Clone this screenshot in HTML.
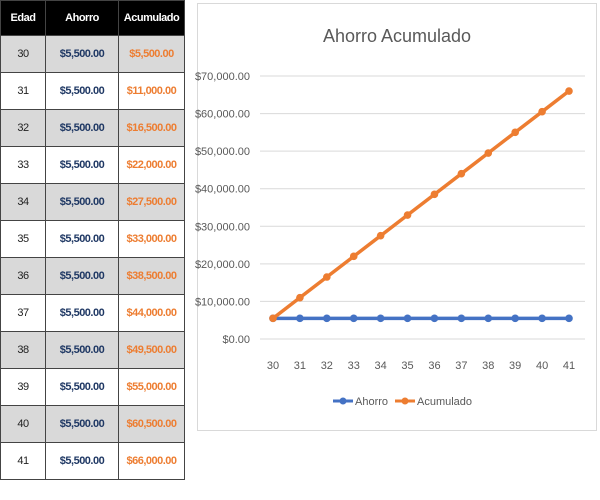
<!DOCTYPE html>
<html><head><meta charset="utf-8"><style>
body{margin:0;width:600px;height:500px;background:#fff;font-family:"Liberation Sans Narrow","Liberation Sans",sans-serif;overflow:hidden;position:relative}
table{position:absolute;left:0;top:0;border-collapse:collapse;width:185px;font-size:11px}
td,th{height:36px;border:1px solid #444;text-align:center;padding:0;letter-spacing:-0.5px}
th{background:#000;color:#fff;height:34px;font-weight:bold}
#tb tr:nth-child(odd) td{background:#d9d9d9}
td.e{width:44px;color:#222;font-weight:normal}
td.a{width:72px;color:#1f3864;font-weight:bold}
td.c{color:#ed7d31;font-weight:bold}
</style></head><body>
<table>
<thead><tr><th>Edad</th><th>Ahorro</th><th>Acumulado</th></tr></thead>
<tbody id="tb"></tbody>
</table>
<svg id="chart-svg" width="600" height="500" style="position:absolute;left:0;top:0">
<rect x="197.5" y="3.5" width="399" height="427" fill="#fff" stroke="#d9d9d9"/>
<text x="397" y="42" text-anchor="middle" font-size="18" fill="#595959" font-family="Liberation Sans Narrow, Liberation Sans, sans-serif">Ahorro Acumulado</text>
<g id="grid"></g><g id="series"></g>
<g font-size="11" fill="#595959">
<line x1="333" y1="401" x2="353" y2="401" stroke="#4472c4" stroke-width="3"/><circle cx="343" cy="401" r="3.5" fill="#4472c4"/>
<text x="355" y="405">Ahorro</text>
<line x1="395" y1="401" x2="415" y2="401" stroke="#ed7d31" stroke-width="3"/><circle cx="405" cy="401" r="3.5" fill="#ed7d31"/>
<text x="417" y="405">Acumulado</text>
</g>
</svg>
<script>
const ages=[30,31,32,33,34,35,36,37,38,39,40,41];
const ahorro=[5500,5500,5500,5500,5500,5500,5500,5500,5500,5500,5500,5500];
const acumulado=[5500,11000,16500,22000,27500,33000,38500,44000,49500,55000,60500,66000];
const yTicks=[0,10000,20000,30000,40000,50000,60000,70000];
const fmt=v=>'$'+v.toLocaleString('en-US',{minimumFractionDigits:2});
const tb=document.getElementById('tb');
ages.forEach((a,i)=>{const tr=document.createElement('tr');


tr.innerHTML='<td class="e">'+a+'</td><td class="a">'+fmt(ahorro[i])+'</td><td class="c">'+fmt(acumulado[i])+'</td>';tb.appendChild(tr);});
const NS='http://www.w3.org/2000/svg';
const x=i=>273+i*(569-273)/(ages.length-1);
const y=v=>339-v*(339-76)/70000;
function el(t,a,p){const e=document.createElementNS(NS,t);for(const k in a)e.setAttribute(k,a[k]);p.appendChild(e);return e;}
const g=document.getElementById('grid');
yTicks.forEach(t=>{const l=el('line',{x1:260,x2:585,y1:y(t),y2:y(t),stroke:'#d9d9d9'},g);


const tx=el('text',{x:250,y:y(t)+4,'text-anchor':'end','font-size':11,fill:'#595959'},g);tx.textContent=fmt(t);

});
ages.forEach((a,i)=>{const tx=el('text',{x:x(i),y:369,'text-anchor':'middle','font-size':11,fill:'#595959'},g);tx.textContent=a;

});
const s=document.getElementById('series');
[[ahorro,'#4472c4','ahorro'],[acumulado,'#ed7d31','acumulado']].forEach(([d,c,n])=>{
const p=el('polyline',{points:d.map((v,i)=>x(i)+','+y(v)).join(' '),fill:'none',stroke:c,'stroke-width':3.5},s);


d.forEach((v,i)=>{const m=el('circle',{cx:x(i),cy:y(v),r:3.8,fill:c},s);

});});
</script>
</body></html>
